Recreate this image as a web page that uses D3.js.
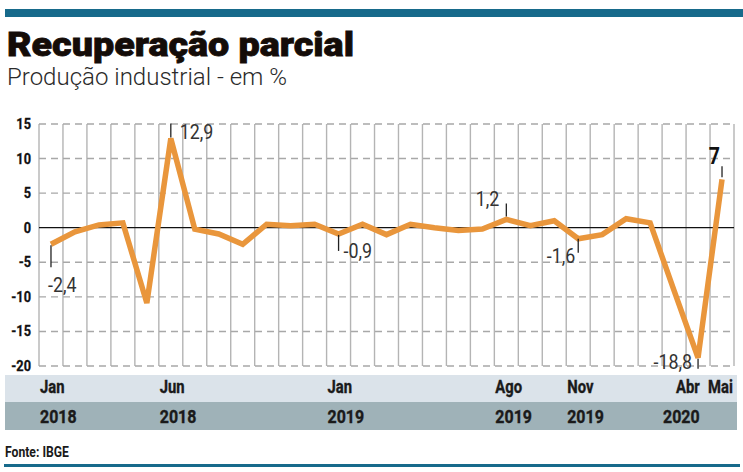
<!DOCTYPE html>
<html>
<head>
<meta charset="utf-8">
<script src="https://cdn.jsdelivr.net/npm/d3@7/dist/d3.min.js"></script>
<style>
  body { margin: 0; background: #fff; }
  svg { display: block; }
</style>
</head>
<body>
<div id="chart"></div>
<script>
const months = [
  'Jan 2018', 'Fev 2018', 'Mar 2018', 'Abr 2018', 'Mai 2018', 'Jun 2018',
  'Jul 2018', 'Ago 2018', 'Set 2018', 'Out 2018', 'Nov 2018', 'Dez 2018',
  'Jan 2019', 'Fev 2019', 'Mar 2019', 'Abr 2019', 'Mai 2019', 'Jun 2019',
  'Jul 2019', 'Ago 2019', 'Set 2019', 'Out 2019', 'Nov 2019', 'Dez 2019',
  'Jan 2020', 'Fev 2020', 'Mar 2020', 'Abr 2020', 'Mai 2020'
]
const values = [
  -2.4, -0.6, 0.4, 0.7, -10.9, 12.9,
  -0.2, -0.9, -2.4, 0.5, 0.3, 0.5,
  -0.9, 0.5, -1.0, 0.5, 0.0, -0.4,
  -0.2, 1.2, 0.3, 1.0, -1.6, -1.0,
  1.3, 0.7, -9.1, -18.8, 7.0
]
const yTicks = [15, 10, 5, 0, -5, -10, -15, -20]
const tickMonths = ['Jan 2018', 'Jun 2018', 'Jan 2019', 'Ago 2019', 'Nov 2019', 'Abr 2020', 'Mai 2020']
const tickMonthLabels = ['Jan', 'Jun', 'Jan', 'Ago', 'Nov', 'Abr', 'Mai']
const tickYearLabels = ['2018', '2018', '2019', '2019', '2019', '2020', '']
const labelled = ['Jan 2018', 'Jun 2018', 'Jan 2019', 'Ago 2019', 'Nov 2019', 'Abr 2020', 'Mai 2020']

const width = 743
const height = 472
const font = 'Roboto, "Noto Sans", sans-serif'

const svg = d3
  .select('#chart')
  .append('svg')
  .attr('width', width)
  .attr('height', height)

const x = d3.scaleBand().domain(months).range([39, 734])
const y = d3.scaleLinear().domain([-20, 15]).range([366, 124])
const cx = m => x(m) + x.bandwidth() / 2

// squeeze text horizontally round its anchor, like a condensed face
function place(sel, fx, fy, sx) {
  return sel.attr('transform', (d, i) => `translate(${fx(d, i)},${fy(d, i)}) scale(${sx},1)`)
}

// bars top and bottom
svg.append('rect').attr('x', 5).attr('y', 9).attr('width', 738).attr('height', 8).attr('fill', '#176a8b')
svg.append('rect').attr('x', 4).attr('y', 464).attr('width', 736).attr('height', 3).attr('fill', '#176a8b')

svg
  .append('text')
  .attr('x', 7)
  .attr('y', 56)
  .attr('font-family', font)
  .attr('font-weight', 900)
  .attr('font-size', 34)
  .attr('fill', '#140c08')
  .attr('stroke', '#140c08')
  .attr('stroke-width', 0.8)
  .attr('textLength', 347)
  .attr('lengthAdjust', 'spacingAndGlyphs')
  .text('Recuperação parcial')

svg
  .append('text')
  .attr('x', 7)
  .attr('y', 85)
  .attr('font-family', font)
  .attr('font-weight', 300)
  .attr('font-size', 24)
  .attr('fill', '#2a2a2a')
  .attr('textLength', 280)
  .attr('lengthAdjust', 'spacingAndGlyphs')
  .text('Produção industrial - em %')

// grid
const grid = svg.append('g')
grid
  .selectAll('.vline')
  .data(months.concat(['end']))
  .enter()
  .append('line')
  .attr('x1', d => (d === 'end' ? x.range()[1] : x(d)))
  .attr('x2', d => (d === 'end' ? x.range()[1] : x(d)))
  .attr('y1', y(15))
  .attr('y2', y(-20))
  .attr('stroke', '#b4b4b4')
  .attr('stroke-width', 1.4)

grid
  .selectAll('.hline')
  .data(yTicks.filter(d => d !== 0))
  .enter()
  .append('line')
  .attr('x1', x.range()[0])
  .attr('x2', x.range()[1])
  .attr('y1', d => y(d))
  .attr('y2', d => y(d))
  .attr('stroke', '#a8a8a8')
  .attr('stroke-width', 1.4)
  .attr('stroke-dasharray', '7,5')

grid
  .append('line')
  .attr('x1', x.range()[0])
  .attr('x2', x.range()[1])
  .attr('y1', y(0))
  .attr('y2', y(0))
  .attr('stroke', '#111')
  .attr('stroke-width', 1.2)

place(
  svg
    .append('g')
    .selectAll('text')
    .data(yTicks)
    .enter()
    .append('text')
    .attr('text-anchor', 'end')
    .attr('font-family', font)
    .attr('font-weight', 'bold')
    .attr('font-size', 14.5)
    .attr('fill', '#111')
    .attr('stroke', '#111')
    .attr('stroke-width', 0.3)
    .text(d => d),
  () => 31,
  d => y(d) + 5,
  0.88
)

// x bands
svg.append('rect').attr('x', 5).attr('y', 375).attr('width', 732).attr('height', 27).attr('fill', '#dbe3ea')
svg.append('rect').attr('x', 5).attr('y', 402).attr('width', 732).attr('height', 28).attr('fill', '#9fb2b8')

const monthShift = { 'Abr 2020': -11, 'Mai 2020': -3 }
const yearShift = { 'Abr 2020': -24 }

place(
  svg
    .append('g')
    .selectAll('text')
    .data(tickMonths)
    .enter()
    .append('text')
    .attr('font-family', font)
    .attr('font-weight', 'bold')
    .attr('font-size', 18.5)
    .attr('fill', '#1a1a1a')
    .attr('stroke', '#1a1a1a')
    .attr('stroke-width', 0.4)
    .text((d, i) => tickMonthLabels[i]),
  d => cx(d) - 11 + (monthShift[d] || 0),
  () => 393,
  0.8
)

place(
  svg
    .append('g')
    .selectAll('text')
    .data(tickMonths)
    .enter()
    .append('text')
    .attr('font-family', font)
    .attr('font-weight', 'bold')
    .attr('font-size', 19)
    .attr('fill', '#1a1a1a')
    .attr('stroke', '#1a1a1a')
    .attr('stroke-width', 0.4)
    .text((d, i) => tickYearLabels[i]),
  d => cx(d) - 11 + (yearShift[d] || 0),
  () => 423,
  0.84
)

place(
  svg
    .append('text')
    .attr('font-family', font)
    .attr('font-weight', 'bold')
    .attr('font-size', 14.5)
    .attr('fill', '#1a1a1a')
    .text('Fonte: IBGE'),
  () => 5,
  () => 457,
  0.84
)

// line
const line = d3
  .line()
  .x((d, i) => cx(months[i]))
  .y(d => y(d))

svg
  .append('path')
  .datum(values)
  .attr('d', line)
  .attr('fill', 'none')
  .attr('stroke', '#e9963c')
  .attr('stroke-width', 5.5)
  .attr('stroke-linejoin', 'miter')

// value labels: tick ends, label offsets
const layout = {
  'Jan 2018': { t0: 1, t1: 23, dx: -3, by: 48, anchor: 'start' },
  'Jun 2018': { t0: -1, t1: -15, dx: 9, by: 0, anchor: 'start' },
  'Jan 2019': { t0: 1, t1: 17, dx: 5, by: 24, anchor: 'start' },
  'Ago 2019': { t0: -3, t1: -16, dx: -7, by: -13, anchor: 'end' },
  'Nov 2019': { t0: 0, t1: 14, dx: -3, by: 24, anchor: 'end' },
  'Abr 2020': { t0: 1, t1: 11, dx: -6, by: 11, anchor: 'end' },
  'Mai 2020': { t0: -2, t1: -13, dx: -2, by: -15, anchor: 'end' }
}

const fmt = v => String(v).replace('.', ',')

const ann = svg.append('g')
labelled.forEach(m => {
  const i = months.indexOf(m)
  const px = cx(m)
  const py = y(values[i])
  const l = layout[m]
  const bold = m === 'Mai 2020'
  ann
    .append('line')
    .attr('x1', px)
    .attr('x2', px)
    .attr('y1', py + l.t0)
    .attr('y2', py + l.t1)
    .attr('stroke', '#222')
    .attr('stroke-width', 1.3)
  ann
    .append('text')
    .attr('transform', `translate(${px + l.dx},${py + l.by}) scale(0.85,1)`)
    .attr('text-anchor', l.anchor)
    .attr('font-family', font)
    .attr('font-weight', bold ? 'bold' : 400)
    .attr('font-size', bold ? 23 : 21)
    .attr('fill', bold ? '#111' : '#333')
    .text(fmt(values[i]))
})
</script>
</body>
</html>
